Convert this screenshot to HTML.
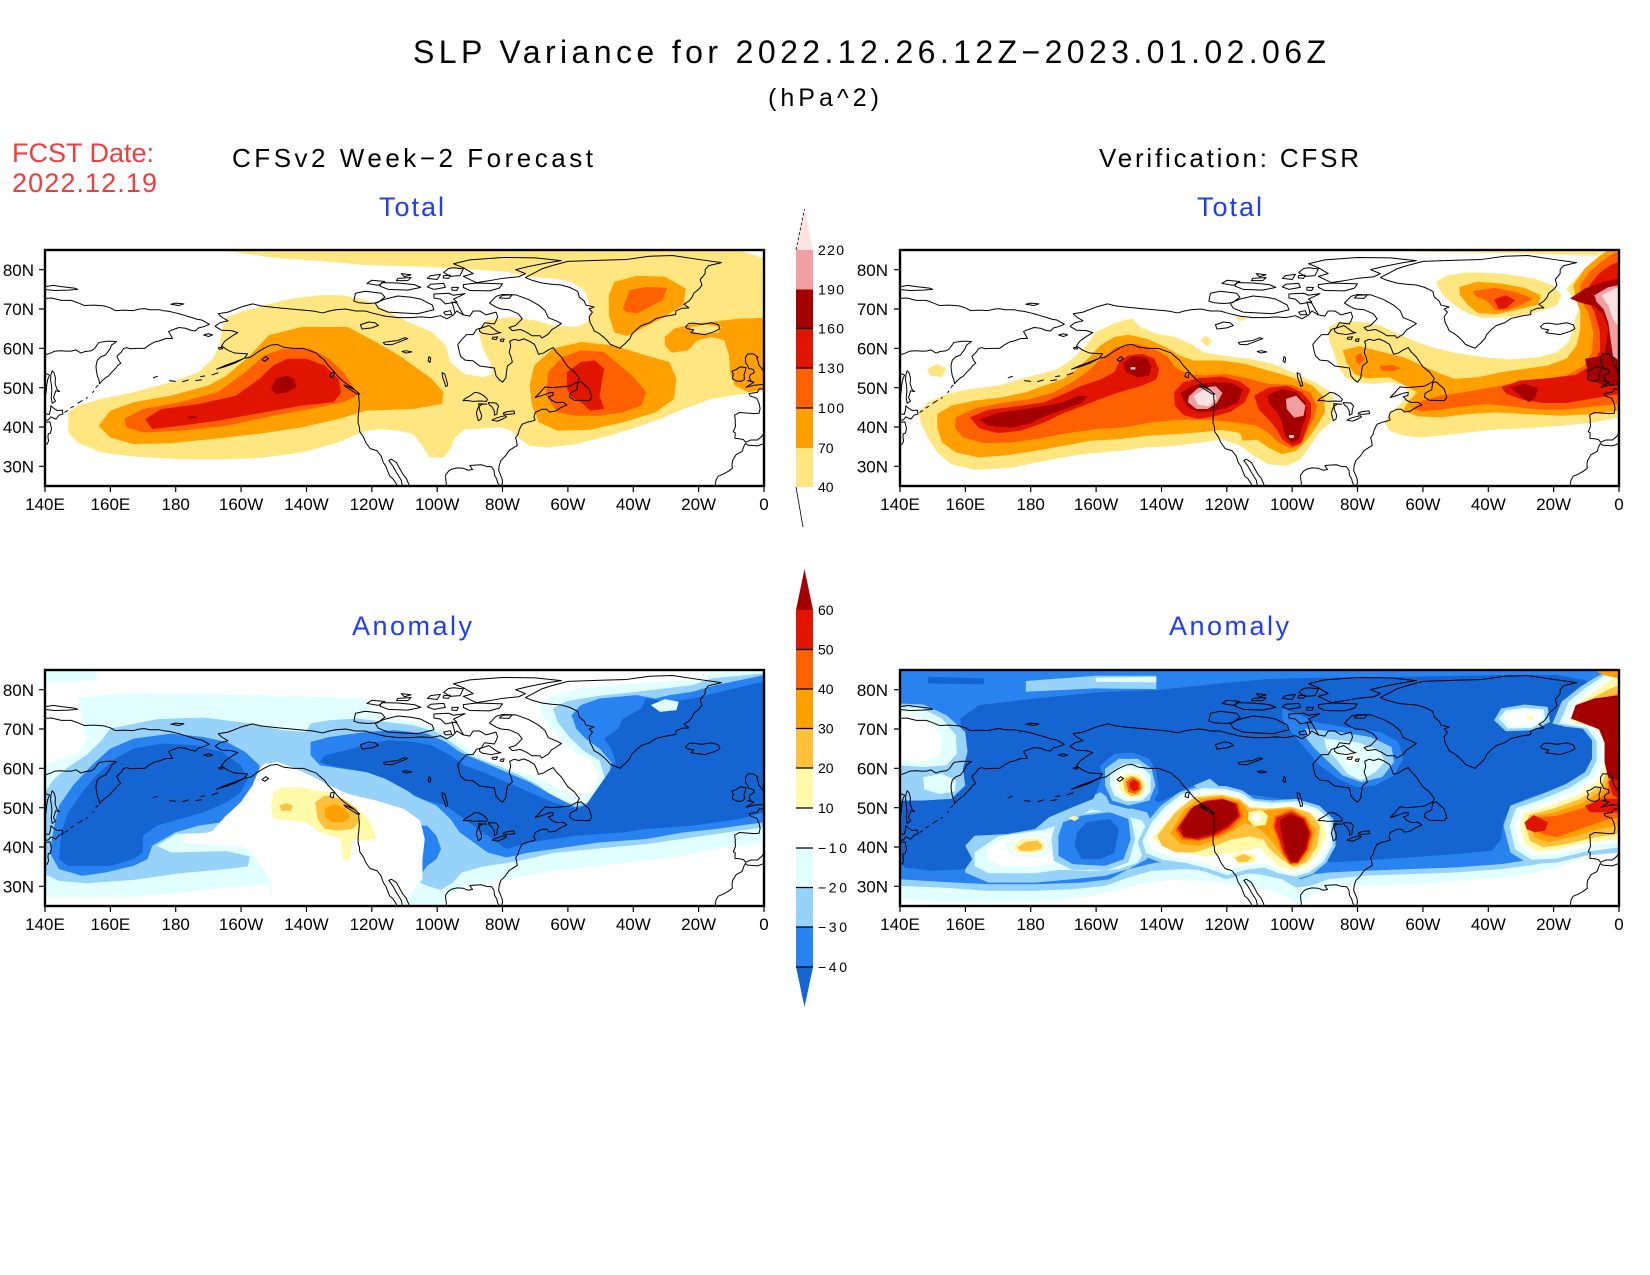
<!DOCTYPE html>
<html><head><meta charset="utf-8"><style>
html,body{margin:0;padding:0;background:#fff;}
svg{display:block;}
text{font-family:"Liberation Sans",Arial,sans-serif;}
</style></head><body>
<svg xmlns="http://www.w3.org/2000/svg" width="1650" height="1275" viewBox="0 0 1650 1275">
<defs>
<g id="coast" transform="matrix(7.0136 0 0 -11.75 -971.9 1013.75)">
<path fill="none" stroke="#000" stroke-width="1" vector-effect="non-scaling-stroke" stroke-linejoin="round" d="
M192,65.6 194,64.6 197,64.5 199,64 197,63 195,61.8 194,60.6 196,59.5 198,58.8 202,58.6 201,57.5 198,56.2 195,55.3 192.5,54.7 195,55.6 198,56.5 201,57.5 203,57.8 205,59 207,60 209,60.8 211,61 213,60.3 216,60 219,60 221,59.4 223,58.8 224,58 225.5,57 226.5,55.8 228,54.5 229.5,53 231,51.8 232.5,50.8 234,50 235,49.3 236,48.5 236,47.5 236.2,46 236,44 235.8,42.5 235.8,41 236.2,40 236.3,38.8 237.4,37.5 238.2,36 239.5,34.5 241.5,34 242.8,32.7 243.5,31 244.3,30 245,28.5 245.5,27.5 246.5,26.8 247.5,25.5 248,24.5
M249.5,24.5 249,26.5 247.5,28.5 246.5,30 245.2,31.5 246,31.8 247.5,31 248.5,29.5 249.5,28 250.5,27 251.3,25.5 251.5,24.5
M192,65.6 193.5,66.5 196,67 194,68 193,68.8 196,69.2 200,70.5 203.5,71.3 206,70.8 210,70.4 214,70.1 219,69.7 222,69.5 225,69 227,69.5 229,69.8 232,70 235,69.5 238,69.5 240,69 244,68.2 248,67.8 252,67.8 255,68 258,67.8 261,68.3 263,67.5 265,68.5 266,69.5 268,68.5 270,68.2 271,69.5 273,69.5 275,68.5 278,69.2 278.5,68 278,67 277.5,66.2 274.5,66.5 273.5,65.2 272,64.8 271,63.5 269,63.5 267.5,62.2 266.3,61 266.8,59 267.2,58 268.5,57 271,56.8 273,55.5 275,55.3 277.5,55 278,53 279,52 280,51.4 281,52.5 281.2,54 281.5,55.5 283,56.5 282.6,57.8 282,59 282.5,60.5 282.2,61.8 283.5,62.3 285,62 286.5,62.4 288,61.9 289.8,61 290.5,59.6 291,58.5 292.5,58.8 294,59.6 295.5,60.2 296.5,59 298,57.8 299,56.5 300,55.3 302,54 303.5,52.3 303,51.5 300.5,50.4 298,50.2 295,50 293,50.2 291.5,48.8 290,47.5 292,48 294,48.6 295.5,48.8 295.4,48 294,47.7 295,46.8 296.5,46.2 298.5,46.3 299.7,45.6 298,45 296,44 294.3,43.8 293.5,44.5 292,44.5 290,43.7 289.6,42.5 290,41.8 289,41.5 287.5,41.2 286,40.7 285.5,40 285,39 284.8,38.2 284,37.3 284.3,36.4 284.5,35.3 283.5,34.8 282,34 280.8,32.6 279.5,31.5 279,30.3 278.8,29 279.3,28 279.8,27 280,26 279.5,24.5
M279.3,24.8 278.5,25.8 278.2,26.8 277.5,27.8 277.4,29 276.6,29.9 275,30 273.5,30.4 271.5,30.3 270,30.2 270.8,29.2 269.5,29 268,29.5 266,29.6 264.5,29.3 263.5,28.8 262.6,27.8 262.6,26.8 262.8,25.8 262.7,24.5
M300.5,47.6 302,46.8 306.5,46.7 307.3,47.5 306.5,49.7 304,51.5 303,51.2 302.7,49.5 300.7,48.6Z
M235.5,48.4 232,50.2 231.5,50.7 234.5,49.6 236.3,48.4Z
M227.5,53.8 228.5,54 228.2,52.5 227.2,52.8Z
M280,73.7 284,73.6 288,72.4 291,71 293,69.6 294,67.8 296.4,67 298,66.3 296,65.2 295,64.7 294,63.6 292,62.6 291.5,63.2 289,63.2 287.5,64 285.5,64.8 283,64.5 282,65.3 284,65.8 286,67.5 284.8,68.8 282,69.8 279.5,70 278,70.5 276,71.5 278,73.2Z
M273,65 275.8,65.8 278.5,64.2 279.5,64 276.6,63.5 274,63.8 273,64.3Z
M241,71.5 244,72.5 248,73.3 252,73 255,72.5 258.5,71 259,69.8 254,68.8 249,69 245,69.2 242,70.2Z
M234.5,72 235,74 238,74.5 243,74 244,73 241.8,71.6 239,71.4 236,71.6Z
M243,76.7 248,76.6 253,76.2 255,75.5 251,74.8 245,75 242.5,75.8Z
M258,76.3 262,76.5 262.5,75.5 259,75 257,75.6Z
M259,73.8 263.5,74 265,73.5 268.5,73.9 265,72.5 266,71.8 262.5,71.3 261,72.5 259,72.8Z
M268,76.2 272,76.6 280,76.4 279,75.3 276,74.6 270,74.7 268,75.5Z
M272,76.7 276,77.2 280,77.8 285,78.2 287,79 284,80 288,80.8 294,81.8 298,82.3 290,83 280,83.1 270,82.5 265,81.5 268,80.5 271,79 268,78.3Z
M265,80.5 268,80.2 267,78.5 264,78.3 262,79.3 263.5,80.3Z
M258,78.5 261,78.8 260,77.5 257,77.8Z
M240,77.3 244,77 242,76 238.5,76.5Z
M262,69.2 264,69.6 264.5,68.6 262.5,68.5Z
M280,73.5 283,73.6 282,72.7 279,72.8Z
M262,78.5 264,78.6 263.5,77.8 261.8,77.9Z
M264.5,75.5 266.5,75.5 266,74.7 264.5,74.8Z
M248,77.8 252,78 251,77.2 247.5,77.2Z
M249,79 252,78.7 250,78.2Z
M277,62.8 278.5,62.9 278,62.2 276.8,62.4Z
M279.5,62.3 280.5,62.4 280.2,61.7 279.3,61.9Z
M265.5,68.8 265,70.5 264.5,71.8 266,71.5 267,70 268,68.6
M287,78 290,79.3 292,80.2 295,81 300,82.1 310,82.4 318,82.6 325,83.4 332,83.6 340,82.6 347,81.8 343,81 342,80 342,79 340.5,77.5 341,76 340,75 338.5,74 338,73 337,72 335.5,71.2 337,70.3 335,70.2 333,69.5 333,68.6 330,68.2 327,67.6 325,66.5 322.5,65.8 321,64.8 319.5,63.5 319,62.5 317.5,61.2 316.5,60.5 316,60 314.5,60.5 313,61 312,62 311,62.8 309.5,63.8 308,64.5 307.5,65.5 306.8,66.5 306.5,68 307.5,69.2 306.5,70 308,70.5 305.5,71 305,72 303.5,73 303,74.5 300.5,75.5 298,76.1 295,76.3 292,76.6 289,77.3Z
M336,65.5 337,66.3 338.5,66.4 341,66.1 344,66.5 346,66 346.5,65 345,64.3 342,63.5 339,63.8 337.6,64 338.5,64.7 336.5,65Z
M354.5,50.1 357,50.6 359.5,50.8 361.5,51.1 361.7,52.8 360.3,53.5 359.6,54.5 358.4,55.8 358.2,56.7 357.8,57.6 358.2,57.7 356.8,58.6 355,58.6 354.3,57.6 354.4,56.3 355,55.6 355.3,54.9 356.8,54.6 357,53.8 355.8,53.3 355.5,52.6 356,51.7 355,51.8 356.9,51.4Z
M354,52.1 353.9,53.3 354.2,54 354.5,55.1 352.7,55.3 351.5,54.6 350.2,54.2 350.6,53.4 350.3,52.3 351.5,51.7 353,51.6Z
M362,51.1 361.8,50.2 360,49.7 358.5,49.7 358,48.8 355.4,48.5 355.8,47.9 357.8,47.3 358.5,46 358.8,44.7 358.5,43.5 357,43.4 354,43.6 352.5,43.7 351,43 351.2,42 351.2,41 351.3,40.2 350.6,38.8 351.2,38.5 351.1,37.1 352.5,37 353.7,36.8 354.4,36.1 356,36.7 358,36.7 359.3,37.6 360,38.5 360,39.4 360.5,40.7 363,41.5
M364,37 360,35.8 358,35.2 355,35.4 354.3,35.8 353.8,35 353.3,33.8 351.5,33 350.4,31.5 350.2,30.5 350.3,29.5 349,28.7 347.5,28 346,27.5 345.3,26.5 345,24.5
M140,72.7 142,72.8 145,72.2 148,72.2 150,71.6 152,70.9 155,71 158,70.8 160,70.3 161.5,69.6 164,69.7 167,69.6 169,70 170.5,70.1 172,69.8 175,69.8 176,69.6 178,69.4 180,69 181,68.8 183,68.3 185,67.8 186.5,67.4 188,67.2 189.5,66.5 190.3,66.1 188.5,65.5 187,65.2 186,64.4 184.5,64.6 183,65.1 181,65.3 179,64.7 177.8,64.3 178.5,63.3 179,62.5 177,62.5 175,61.9 173.5,61.6 172,60.9 170.5,60 168,60 166,59.9 165,60.2 164,59.9 163.3,59 162,58 162.5,57 163.2,56.2 162.2,55.6 161.7,55 160.5,54 159.5,53 158.5,52.5 157.4,51.7 156.7,51 156.5,52 156,53 155.7,54.5 155.6,55.5 156,57 157,57.8 158.5,58.3 160,60 160.3,60.8 161.9,61.7 160.5,61.8 159,61.8 156.5,61.5 155,59.8 154.2,59.4 152.3,59.2 151,58.8 149.5,59.6 148,59.3 146.5,59.3 145,59.4 143,59.3 142,58.9 141,58.6 139.5,58.2
M139.5,53.8 141.4,53.2 140.8,52 140.5,50.5 140.3,48.5 139.5,47.8
M142.2,54.3 142.8,53.7 143.2,52.5 143.1,51 143.7,49.5 144.5,49 143.3,49.2 142.6,47.5 143.2,46.6 142.2,46 141.9,47.5 142.1,49 142,50.5 141.7,52 141.8,53.3Z
M139.5,42.5 140.3,43.3 141.3,43.2 141.7,44.4 141.8,45.4 142.6,44.8 143.7,44.2 145.3,44.3 145.5,43.3 144.3,43 143.3,42 141.8,42.6 141,41.8 139.5,41.6
M139.5,40.9 140.4,41.2 141.5,41.3 141.8,40.3 142,39.5 141.6,38.4 141,38.3 140.9,37.4 141.1,36.5 140.7,35.7 139.5,35.3
M146,43.7 147,44.2 M147.8,44.8 148.8,45.3 M150,46 151.5,46.8 M152.5,47.2 153,47.6 M154.5,48.7 155,49.2 M155.5,50 156.3,50.7
M186,51.8 188,52 M182,51.5 184,52 M178,51.8 180,51.6 M173,52.5 174.5,52.9 M187.5,52.8 189,53 M191,53.2 193,53.8
M188.5,63.4 190,63.7 191.3,63.4 190,63Z
M193,60.1 194,60.3 194.4,59.9 193.4,59.8Z
M206.4,57.1 207.5,57.9 208.4,57.4 207.2,56.7Z
M139.5,75.6 142.5,76 145,75.7 149,75.3 150,75 147,74.8 143,74.7 139.5,75
M178.5,71.2 180,71.5 182.5,71.3 181,70.9Z
M267.9,46.7 269.5,46.7 271,46.5 273,46.6 275,46.5 275.4,47 274.5,47.8 273,48.6 271.5,48.8 270.2,48 268.5,47.2Z
M272.7,45.9 272.9,44.5 273.6,43 273.4,42 272.6,41.6 272.3,42.5 272,43.5 272.3,44.5 272.7,45.2 273.8,45.8 275.2,45.8Z
M275.6,46.2 278,46.1 278.8,45.3 278.4,44.5 278.3,43.3 277.5,43 277.5,44 276.8,45.1 276,45.6Z
M276.8,41.7 278.5,41.5 280,42 281.2,42.6 280.8,42.9 278.5,42.4 277,41.9Z
M280.2,43.3 281.5,43.2 283.7,43.4 283.5,44.1 281.4,43.9 280.3,43.6Z
M261.5,53.8 262.3,53.5 263,51.5 263.2,50.5 262.6,50.3 262.2,51.5 261.7,52.5Z
M243.5,61.5 246,61.8 248,62 250,62.7 251,62.5 248,61.5 246,60.9 244,61Z
M236.5,66 239,66.7 241,66.5 242,65.8 240,65.2 238,65 237,64.9Z
M249.3,59.2 250.5,59.4 252.2,59.1 250.5,58.8Z
M257.5,57.9 258,57.5 257.8,56.4 257.2,56.8Z
"/>
</g>
</defs>

<!-- Titles -->
<text x="413" y="63" font-size="32" textLength="913" lengthAdjust="spacing">SLP Variance for 2022.12.26.12Z−2023.01.02.06Z</text>
<text x="768" y="106" font-size="25" textLength="111" lengthAdjust="spacing">(hPa^2)</text>
<text x="232" y="167" font-size="26" textLength="361" lengthAdjust="spacing">CFSv2 Week−2 Forecast</text>
<text x="1099" y="167" font-size="26" textLength="260" lengthAdjust="spacing">Verification: CFSR</text>
<text x="379" y="216" font-size="27" fill="#1e3cff" textLength="65" lengthAdjust="spacing">Total</text>
<text x="1197" y="216" font-size="27" fill="#1e3cff" textLength="65" lengthAdjust="spacing">Total</text>
<text x="12" y="162" font-size="27" fill="#f03c3c" textLength="142" lengthAdjust="spacing">FCST Date:</text>
<text x="12" y="192" font-size="27" fill="#f03c3c" textLength="145" lengthAdjust="spacing">2022.12.19</text>
<text x="352" y="635" font-size="27" fill="#1e3cff" textLength="120" lengthAdjust="spacing">Anomaly</text>
<text x="1169" y="635" font-size="27" fill="#1e3cff" textLength="120" lengthAdjust="spacing">Anomaly</text>

<!-- MAP 1: top-left forecast total -->
<svg x="45" y="250" width="719" height="236" viewBox="10 15 1543 705" preserveAspectRatio="none" overflow="hidden">
<g fill="#ffe680">
<polygon points="380,15 1500,15 1553,40 1553,438 1500,446 1440,460 1380,490 1330,520 1280,545 1220,570 1150,595 1090,605 1050,600 1030,580 1010,555 990,545 950,548 910,552 890,575 880,610 865,635 835,635 820,600 800,565 770,555 730,550 700,555 680,565 640,590 560,620 480,635 400,640 300,640 200,632 130,620 80,590 60,560 60,500 80,480 130,460 200,440 280,410 340,380 370,340 385,300 390,250 400,215 430,200 480,180 540,160 600,150 650,150 700,165 740,195 790,230 840,260 870,300 880,350 910,385 950,395 970,385 965,350 950,310 940,260 960,225 1010,215 1060,225 1100,240 1150,245 1175,230 1180,190 1170,140 1140,110 1100,100 1050,95 1000,80 900,70 800,64 700,60 600,48 500,38 420,22"/>
</g>
<g fill="#ffa000">
<polygon points="125,540 150,495 200,470 280,450 360,420 400,390 450,330 490,270 560,245 660,245 720,290 770,330 800,360 840,400 865,440 862,475 800,490 700,495 640,520 560,545 480,562 380,578 280,592 200,595 150,575"/>
<polygon points="1050,420 1060,360 1100,310 1160,290 1230,300 1300,330 1350,350 1365,400 1360,460 1320,500 1250,530 1180,552 1110,555 1070,530 1055,480"/>
<polygon points="1220,150 1232,110 1280,92 1340,95 1385,130 1380,180 1330,222 1290,250 1260,272 1232,262 1220,210"/>
<polygon points="1340,275 1360,250 1400,236 1450,228 1500,220 1553,218 1553,432 1520,440 1490,420 1480,380 1478,330 1468,285 1440,275 1410,285 1390,315 1355,322 1340,300"/>
</g>
<polygon fill="#ffe680" points="1395,245 1430,238 1462,245 1455,262 1420,265 1398,258"/>
<g fill="#ff6000">
<polygon points="180,520 220,490 300,470 380,440 440,380 480,330 520,310 580,310 620,340 650,380 670,420 680,450 650,470 580,490 500,510 400,540 300,555 220,560 185,545"/>
<polygon points="1085,450 1090,380 1120,335 1160,315 1210,320 1240,355 1270,390 1300,440 1290,480 1250,500 1200,510 1150,510 1110,500"/>
<polygon points="1250,190 1265,135 1300,125 1345,128 1335,165 1300,190 1280,205 1258,200"/>
</g>
<g fill="#e11400">
<polygon points="225,520 260,490 340,475 420,450 470,400 500,360 530,340 570,340 610,360 640,400 645,440 630,470 560,480 480,500 380,525 300,540 240,550"/>
<polygon points="1130,430 1130,380 1160,350 1190,345 1210,370 1205,410 1200,450 1210,490 1180,495 1160,470 1140,455"/>
</g>
<g fill="#a50000">
<polygon points="495,430 505,400 530,390 545,400 550,425 530,440 505,445"/>
<polygon points="318,512 335,512 335,518 318,518"/>
</g>
<use href="#coast"/>
</svg>

<!-- MAP 2: top-right CFSR total -->
<svg x="900" y="250" width="719" height="236" viewBox="10 15 1543 705" preserveAspectRatio="none" overflow="hidden">
<g fill="#ffe680">
<polygon points="50,500 70,470 110,445 160,430 220,420 270,400 310,385 350,370 380,340 410,300 430,260 460,240 490,225 510,220 525,245 560,265 600,275 640,300 660,320 700,330 760,340 810,355 860,385 900,410 935,440 945,480 935,530 910,560 890,600 870,640 840,660 800,655 770,630 740,600 700,580 660,590 600,600 540,605 480,615 400,625 320,645 250,665 170,672 120,655 90,620 70,575 55,535"/>
<polygon points="68,370 90,355 110,370 100,395 75,390"/>
<polygon points="655,285 665,270 680,285 670,305"/>
<polygon points="728,218 745,212 755,222 738,228"/>
<polygon points="930,245 950,230 990,228 1040,240 1070,260 1110,285 1150,305 1200,322 1260,335 1320,342 1380,335 1420,320 1445,290 1455,250 1460,215 1470,185 1455,160 1440,130 1460,100 1480,70 1505,40 1520,15 1553,15 1553,515 1500,530 1430,540 1350,548 1280,552 1200,565 1130,575 1090,570 1060,555 1050,530 1060,505 1080,480 1100,450 1095,420 1060,410 1020,415 990,410 965,395 950,360 940,320 930,280"/>
<polygon points="1110,15 1520,15 1505,32 1450,30 1350,25 1200,22 1120,20"/>
<polygon points="1160,110 1185,90 1230,82 1300,85 1370,100 1410,120 1430,150 1420,180 1380,200 1320,215 1260,218 1230,205 1200,180 1175,150"/>
</g>
<g fill="#ffa000">
<polygon points="90,505 120,480 170,465 230,455 280,440 320,420 360,400 390,370 420,330 440,300 470,275 500,268 540,280 580,305 610,330 640,345 700,345 750,355 800,375 850,395 895,420 920,455 922,500 905,540 885,580 860,615 830,625 800,605 770,575 735,560 700,552 650,560 600,565 540,570 480,580 420,585 360,600 300,615 240,628 180,635 130,620 100,590 90,545"/>
<polygon points="740,560 790,558 795,580 745,585"/>
<polygon points="1210,125 1250,110 1300,115 1350,128 1385,150 1380,178 1340,192 1290,207 1250,203 1228,178 1212,150"/>
<polygon points="960,315 995,302 1040,318 1090,335 1130,360 1170,385 1200,400 1250,395 1300,380 1350,370 1400,360 1440,340 1462,300 1470,250 1470,200 1460,160 1455,120 1480,70 1505,40 1530,15 1553,15 1553,495 1500,505 1430,510 1350,505 1290,500 1230,505 1170,515 1120,512 1090,495 1100,470 1120,440 1100,425 1060,395 1010,398 985,385 968,350"/>
</g>
<g fill="#ff6000">
<polygon points="130,515 170,488 230,472 290,460 340,440 380,410 415,375 445,335 475,305 515,295 555,310 585,335 600,365 625,385 660,390 710,385 760,400 800,415 850,418 890,440 905,480 898,520 882,560 870,598 848,608 822,590 800,560 775,540 730,530 670,522 610,522 550,530 490,545 430,550 370,562 310,578 250,590 190,592 145,575 128,545"/>
<polygon points="1240,138 1285,128 1330,140 1368,160 1345,178 1312,195 1288,195 1268,165 1245,152"/>
<polygon points="988,332 998,322 1008,340 996,358 988,348"/>
<polygon points="1040,362 1065,358 1085,368 1065,378 1042,374"/>
<polygon points="1110,490 1130,465 1170,450 1220,440 1270,428 1320,415 1380,405 1440,390 1478,362 1495,320 1498,260 1488,205 1470,160 1470,120 1490,80 1515,50 1540,25 1553,20 1553,475 1500,482 1440,492 1380,492 1320,482 1270,475 1220,482 1170,492 1130,497"/>
</g>
<g fill="#e11400">
<polygon points="160,515 200,492 260,482 320,470 360,446 400,420 440,402 470,380 480,350 500,330 530,325 556,340 566,372 560,402 530,420 480,440 440,460 400,482 360,503 320,530 270,555 220,562 180,548"/>
<polygon points="598,440 618,410 650,398 700,393 740,408 762,432 750,470 720,498 690,510 650,520 618,508 600,480"/>
<polygon points="770,450 800,427 840,420 872,440 892,472 892,512 882,552 872,590 852,602 830,580 818,550 800,520 780,492"/>
<polygon points="1285,162 1310,150 1330,165 1312,188 1295,192"/>
<polygon points="1300,425 1340,405 1400,398 1460,388 1495,358 1512,318 1512,258 1500,200 1485,160 1490,120 1510,85 1535,60 1553,50 1553,445 1500,458 1440,472 1390,472 1345,462 1312,445"/>
</g>
<g fill="#a50000">
<polygon points="180,522 220,502 280,490 325,480 360,470 392,450 412,452 400,472 360,492 320,512 290,532 250,546 200,540"/>
<polygon points="490,352 510,332 540,337 550,362 545,390 520,396 494,380"/>
<polygon points="612,442 638,420 680,410 722,412 746,432 736,470 710,487 680,497 650,500 625,482"/>
<polygon points="798,450 828,430 860,440 880,470 882,512 872,552 866,582 850,592 836,570 830,532 820,500 805,480"/>
<polygon points="1320,425 1350,415 1380,428 1372,458 1360,470 1342,452"/>
<polygon points="1448,160 1480,130 1520,110 1553,100 1553,385 1530,365 1520,340 1525,300 1530,250 1520,210 1500,183 1470,172"/>
<polygon points="1480,340 1520,330 1553,330 1553,420 1520,420 1490,400"/>
</g>
<g fill="#f0a0a0">
<polygon points="630,452 650,427 688,422 702,442 690,472 670,490 646,490 628,470"/>
<polygon points="838,460 860,450 880,480 876,510 856,516 840,490"/>
<polygon points="1500,150 1530,126 1553,120 1553,345 1540,332 1535,282 1530,232 1520,192 1505,170"/>
</g>
<g fill="#fde2e2">
<polygon points="640,452 660,432 684,437 690,460 672,482 650,477"/>
<polygon points="1515,150 1545,130 1553,130 1553,245 1540,222 1530,180"/>
<polygon points="505,365 515,365 515,372 505,372"/>
<polygon points="845,568 855,568 855,576 845,576"/>
</g>
<use href="#coast"/>
</svg>

<!-- MAP 3: bottom-left forecast anomaly -->
<svg x="45" y="670" width="719" height="236" viewBox="10 15 1543 705" preserveAspectRatio="none" overflow="hidden">
<rect x="0" y="0" width="1600" height="760" fill="#e1ffff"/>
<polygon fill="#96d2fa" points="10,380 30,340 60,305 100,268 130,228 150,190 250,162 350,157 450,175 520,195 570,200 580,175 620,165 680,160 740,170 800,180 850,200 885,235 925,272 980,300 1030,330 1070,360 1100,395 1140,415 1185,410 1212,340 1200,285 1165,255 1135,215 1110,170 1100,130 1130,108 1200,92 1280,80 1340,70 1400,60 1440,40 1553,25 1553,485 1500,495 1450,505 1400,515 1300,535 1200,548 1100,562 1050,578 1000,592 950,602 905,620 885,650 860,672 830,660 800,640 780,610 770,560 760,510 745,470 700,440 650,410 600,370 560,330 520,305 490,310 475,350 455,395 425,440 395,480 370,500 290,505 250,540 280,560 400,556 450,572 445,602 380,612 300,622 200,642 100,652 40,645 10,625"/>
<g fill="#2882f0">
<polygon points="20,560 30,480 40,420 70,360 110,300 150,250 200,220 280,205 350,215 400,230 440,260 470,300 475,350 460,400 430,440 390,470 340,480 290,500 240,540 230,580 200,600 140,620 90,630 40,610"/>
<polygon points="580,230 620,215 700,200 760,195 830,205 870,230 900,260 950,290 1000,320 1050,350 1100,390 1150,425 1190,410 1220,340 1225,290 1200,250 1170,220 1150,190 1140,150 1160,120 1200,100 1280,90 1320,100 1350,90 1400,80 1450,60 1520,40 1553,30 1553,470 1500,480 1450,490 1380,500 1300,520 1200,530 1100,550 1050,560 1000,575 960,560 930,530 900,500 880,460 850,420 800,390 760,340 700,320 650,310 600,300 580,270"/>
<polygon points="780,500 800,480 830,480 850,510 860,550 850,580 830,600 820,620 790,600 780,560"/>
</g>
<g fill="#1464d2">
<polygon points="40,580 45,500 60,440 90,380 120,330 160,280 200,250 260,235 330,240 390,260 430,300 445,340 430,380 400,410 350,440 300,460 250,480 220,510 220,560 200,580 150,600 100,600 60,600"/>
<polygon points="670,250 700,235 750,225 800,230 840,240 880,270 910,300 950,320 1000,350 1050,380 1100,410 1150,430 1170,420 1200,360 1235,290 1225,250 1210,220 1240,190 1250,160 1290,130 1300,100 1350,110 1400,100 1460,80 1520,60 1553,50 1553,440 1500,460 1450,470 1400,480 1300,490 1250,500 1150,510 1050,530 1000,550 970,520 930,480 900,450 870,420 820,400 780,370 740,340 700,320 660,310 620,300 600,290 610,270"/>
</g>
<polygon fill="#e1ffff" points="1310,120 1340,102 1370,110 1365,135 1330,140"/>
<g fill="#ffffff">
<polygon points="120,15 1553,15 1553,20 1440,22 1420,45 1300,52 1250,58 1150,72 1090,95 1070,128 1090,178 1120,228 1150,265 1185,288 1198,330 1185,380 1150,392 1110,368 1060,332 1000,308 950,278 900,228 860,188 800,168 740,158 705,128 700,102 600,95 400,88 200,84 80,98 60,52 120,45"/>
<polygon points="10,50 60,52 80,98 90,170 100,220 80,262 40,285 10,298"/>
<polygon points="480,295 510,290 540,305 580,330 620,360 660,385 720,405 780,430 815,465 825,520 820,580 820,640 790,690 770,720 500,720 495,655 485,625 465,580 440,545 370,538 305,530 310,505 350,505 370,495 395,455 430,410 455,360 470,310"/>
<polygon points="10,692 100,692 200,692 300,682 400,664 490,655 500,720 10,720"/>
<polygon points="860,720 875,690 905,668 960,650 1020,635 1100,615 1200,600 1300,585 1380,570 1450,550 1500,540 1553,535 1553,720"/>
</g>
<polygon fill="#fffaaa" points="500,380 520,365 560,365 590,375 620,380 660,410 690,440 710,470 720,520 690,525 670,520 665,580 650,585 645,520 600,500 570,470 540,465 500,460 495,420"/>
<g fill="#ffc03c">
<polygon points="590,410 610,390 650,400 680,430 685,470 670,490 640,495 610,490 595,460"/>
<polygon points="513,420 528,413 542,420 538,435 518,436"/>
</g>
<polygon fill="#ffa000" points="610,430 630,415 655,430 665,455 650,470 625,470 612,455"/>
<use href="#coast"/>
</svg>

<!-- MAP 4: bottom-right CFSR anomaly -->
<svg x="900" y="670" width="719" height="236" viewBox="10 15 1543 705" preserveAspectRatio="none" overflow="hidden">
<rect x="0" y="0" width="1600" height="760" fill="#e1ffff"/>
<polygon fill="#96d2fa" points="10,15 1553,15 1553,485 1500,525 1450,565 1380,595 1300,610 1200,620 1100,625 1000,630 930,640 890,660 860,665 830,640 780,625 700,615 620,610 550,615 500,635 450,660 380,670 300,675 200,675 100,665 10,660"/>
<polygon fill="#2882f0" points="10,15 1553,15 1553,470 1500,505 1440,545 1370,580 1300,595 1200,605 1100,610 1000,615 930,620 900,625 870,640 840,625 790,605 700,600 620,590 560,590 500,610 460,640 400,650 300,655 200,655 100,648 10,640"/>
<polygon fill="#1464d2" points="70,35 190,40 190,58 70,55"/>
<polygon fill="#96d2fa" points="280,48 430,32 560,32 560,72 430,70 280,80"/>
<polygon fill="#e1ffff" points="430,38 560,36 560,52 430,50"/>
<polygon fill="#96d2fa" points="150,520 200,470 300,440 380,420 440,380 480,420 540,440 560,500 540,580 500,610 450,630 380,640 300,650 200,650 150,620"/>
<polygon fill="#e1ffff" points="170,560 220,512 320,492 360,472 420,432 480,445 530,465 550,520 520,590 480,610 420,615 350,612 300,622 200,622 170,600"/>
<polygon fill="#ffffff" points="200,545 250,507 320,500 350,520 355,560 340,592 300,602 230,602 200,582"/>
<polygon fill="#96d2fa" points="345,470 390,445 460,435 505,455 515,520 500,590 455,612 380,612 340,585 335,520"/>
<polygon fill="#2882f0" points="360,470 400,450 460,440 500,460 505,520 490,580 450,600 380,595 350,570 350,510"/>
<polygon fill="#1464d2" points="390,500 410,470 460,460 480,490 470,560 440,580 400,580 385,540"/>
<polygon fill="#1464d2" points="10,400 60,390 110,380 140,330 145,280 140,220 140,160 180,120 300,100 450,80 560,75 700,55 800,42 900,38 1100,35 1300,30 1420,30 1480,45 1500,65 1460,100 1440,150 1480,180 1505,230 1505,290 1470,330 1420,370 1360,395 1320,420 1305,470 1300,520 1280,555 1200,565 1100,575 1000,585 930,590 915,540 920,480 900,430 860,405 800,395 750,385 720,370 690,365 650,355 620,370 590,395 565,410 545,395 555,350 545,300 510,270 480,275 455,300 440,350 425,400 380,425 330,455 300,490 240,505 170,510 150,540 165,580 150,610 80,615 20,605 10,590"/>
<!-- left lobe -->
<polygon fill="#96d2fa" points="10,115 60,118 110,150 150,200 155,260 145,310 150,360 120,400 60,405 10,405"/>
<polygon fill="#e1ffff" points="10,125 55,128 100,160 130,210 132,265 110,300 60,305 10,300"/>
<polygon fill="#e1ffff" points="60,335 100,325 130,345 128,378 95,385 62,372"/>
<polygon fill="#ffffff" points="10,140 40,145 80,175 100,220 95,270 65,288 10,288"/>
<!-- Hudson -->
<polygon fill="#2882f0" points="830,130 870,150 900,170 960,185 1040,200 1080,230 1090,280 1070,330 1030,360 990,365 950,340 910,300 880,250 850,200 830,160"/>
<polygon fill="#96d2fa" points="880,190 950,200 1020,215 1065,245 1070,290 1045,335 1000,350 960,330 930,290 900,250 880,215"/>
<polygon fill="#e1ffff" points="920,220 990,230 1040,255 1050,290 1030,320 1000,345 970,325 945,280 925,250"/>
<polygon fill="#ffffff" points="960,265 990,260 1000,290 970,300"/>
<polygon fill="#96d2fa" points="640,360 675,340 700,368 665,382"/>
<!-- Greenland patch -->
<polygon fill="#96d2fa" points="1285,165 1300,130 1350,118 1400,125 1405,170 1370,195 1310,198"/>
<polygon fill="#e1ffff" points="1295,160 1310,135 1350,128 1392,133 1395,168 1365,188 1315,190"/>
<polygon fill="#ffffff" points="1305,158 1320,140 1355,135 1385,140 1385,165 1360,182 1320,183"/>
<polygon fill="#fffaaa" points="1352,155 1365,150 1372,160 1360,166"/>
<!-- bottom white -->
<polygon fill="#ffffff" points="10,700 100,705 250,708 340,702 420,690 480,672 530,652 600,642 680,647 740,657 800,672 840,692 860,715 880,702 910,672 960,662 1050,657 1150,652 1250,642 1350,627 1430,602 1480,572 1520,532 1553,508 1553,720 10,720"/>
<!-- Alaska warm blob -->
<polygon fill="#2882f0" points="440,300 470,265 510,262 545,280 560,320 565,380 550,420 500,430 460,415 445,370"/>
<polygon fill="#96d2fa" points="450,310 480,280 520,280 550,310 558,360 545,405 500,420 465,405 450,360"/>
<polygon fill="#e1ffff" points="462,320 490,295 525,298 548,330 548,380 530,405 495,408 470,390 460,355"/>
<polygon fill="#ffffff" points="470,330 495,310 525,315 542,345 540,385 520,400 495,400 475,380"/>
<polygon fill="#fffaaa" points="478,340 500,322 525,328 538,355 532,388 510,398 490,390 480,365"/>
<polygon fill="#ffc03c" points="488,345 505,330 525,340 532,365 522,388 505,392 492,375"/>
<polygon fill="#ff6000" points="495,348 510,335 525,348 528,370 515,385 500,380"/>
<polygon fill="#e11400" points="502,352 512,342 522,352 522,372 512,378 503,368"/>
<!-- Big western warm -->
<polygon fill="#96d2fa" points="520,530 540,470 570,420 610,380 660,360 710,362 745,375 770,400 810,405 860,400 910,420 940,460 945,540 925,590 895,625 860,640 820,630 790,615 750,625 710,640 670,620 620,600 570,590 530,570"/>
<polygon fill="#e1ffff" points="530,525 550,470 578,425 615,385 660,368 705,370 742,382 765,405 808,412 860,408 905,428 935,465 938,540 918,588 888,620 858,632 822,622 792,605 752,612 712,628 675,610 625,592 575,582 538,562"/>
<polygon fill="#ffffff" points="540,520 560,470 585,428 620,390 660,375 700,376 738,388 758,410 800,420 850,415 900,435 930,470 930,540 910,585 880,612 852,624 822,612 795,592 765,595 730,605 700,615 680,600 640,585 590,572 550,552"/>
<polygon fill="#fffaaa" points="550,518 580,470 612,420 650,388 700,383 735,396 760,422 800,428 845,422 885,437 915,465 925,510 905,570 880,600 852,614 822,600 800,570 780,545 760,552 730,562 700,562 665,572 625,562 585,550"/>
<polygon fill="#ffc03c" points="562,510 600,442 640,396 700,388 740,402 762,428 800,430 850,424 890,442 912,482 906,540 882,590 855,604 830,582 802,548 790,522 760,512 720,522 682,542 642,560 602,560 572,540"/>
<polygon fill="#ffa000" points="590,502 620,432 652,402 700,392 740,408 760,442 800,434 850,428 880,452 902,492 892,552 872,590 852,600 832,572 812,532 792,502 772,482 750,472 720,500 690,520 652,540 612,535"/>
<polygon fill="#fffaaa" points="758,440 785,432 800,450 795,478 770,482 757,462"/>
<polygon fill="#ffffff" points="765,448 780,444 788,458 778,470 766,465"/>
<g fill="#ff6000">
<polygon points="600,492 630,432 662,406 700,398 736,412 746,452 722,490 692,512 652,526 615,522"/>
<polygon points="814,452 850,432 882,458 896,502 886,552 866,590 846,596 830,562 820,520 810,482"/>
</g>
<g fill="#e11400">
<polygon points="605,488 635,428 665,406 702,400 733,414 740,452 716,486 688,508 650,522 618,516"/>
<polygon points="818,456 850,438 878,460 892,502 883,552 864,592 848,592 834,562 824,520 814,484"/>
</g>
<g fill="#a50000">
<polygon points="612,480 640,422 670,407 705,402 730,416 736,452 712,482 682,504 644,518 617,510"/>
<polygon points="826,462 850,446 875,462 888,502 880,550 862,588 848,586 836,552 830,512 826,482"/>
</g>
<polygon fill="#fffaaa" points="720,572 745,560 775,570 770,590 740,595"/>
<polygon fill="#ffc03c" points="730,575 748,565 765,575 755,588 735,588"/>
<polygon fill="#e1ffff" points="235,540 260,510 310,505 335,520 335,560 300,575 250,570"/>
<polygon fill="#ffffff" points="243,540 265,515 305,512 326,525 326,556 298,568 255,565"/>
<polygon fill="#fffaaa" points="250,545 270,520 305,518 320,530 320,552 295,562 260,560"/>
<polygon fill="#ffc03c" points="262,545 280,528 305,525 315,538 312,550 290,556 268,555"/>
<polygon fill="#fffaaa" points="372,458 383,450 395,457 385,466"/>
<!-- Right warm region -->
<polygon fill="#96d2fa" points="1410,175 1430,110 1470,65 1505,35 1535,15 1553,15 1553,560 1480,570 1420,590 1360,595 1320,560 1305,480 1320,420 1380,390 1440,355 1480,320 1495,280 1495,225 1475,190 1440,185"/>
<polygon fill="#e1ffff" points="1425,175 1445,110 1480,70 1512,40 1540,15 1553,15 1553,545 1480,558 1420,578 1365,582 1330,550 1318,480 1332,428 1390,400 1450,365 1490,328 1505,285 1505,228 1485,190 1450,180"/>
<polygon fill="#ffffff" points="1438,172 1458,112 1490,75 1520,45 1545,18 1553,15 1553,530 1480,545 1420,565 1370,570 1340,540 1330,480 1342,435 1400,410 1460,375 1500,335 1515,288 1515,225 1495,188 1460,178"/>
<polygon fill="#fffaaa" points="1448,168 1465,115 1498,82 1528,52 1553,30 1553,520 1480,532 1420,552 1375,558 1350,532 1340,480 1350,442 1405,420 1465,388 1508,345 1525,290 1525,225 1505,188 1470,176"/>
<polygon fill="#ffc03c" points="1452,162 1470,120 1505,92 1535,70 1553,60 1553,505 1500,515 1440,535 1390,545 1362,525 1352,480 1360,448 1410,430 1470,400 1515,360 1532,300 1530,230 1512,192 1478,172"/>
<polygon fill="#ffa000" points="1455,158 1475,122 1510,100 1553,85 1553,480 1510,490 1450,515 1400,530 1372,515 1362,478 1370,452 1415,440 1475,412 1520,372 1538,310 1535,235 1518,195 1482,170"/>
<polygon fill="#ff6000" points="1458,155 1480,125 1515,105 1553,95 1553,455 1520,465 1470,490 1420,515 1385,505 1372,475 1380,455 1420,450 1480,425 1525,385 1540,320 1540,240 1522,198 1485,168"/>
<g fill="#e11400">
<polygon points="1460,152 1485,122 1520,108 1553,100 1553,400 1540,390 1530,350 1545,320 1545,245 1528,200 1490,165"/>
<polygon points="1350,470 1370,448 1400,470 1395,495 1372,500 1355,490"/>
<polygon points="1480,420 1520,400 1553,400 1553,440 1520,440 1490,440"/>
</g>
<polygon fill="#a50000" points="1450,160 1460,120 1500,100 1553,90 1553,345 1530,338 1522,290 1522,232 1510,192 1480,176"/>
<polygon fill="#ffa000" points="1500,15 1553,15 1553,40 1520,30"/>
<use href="#coast"/>
</svg>

<!-- Frames -->
<g fill="none" stroke="#000" stroke-width="2.4">
<rect x="45" y="250" width="719" height="236"/>
<rect x="900" y="250" width="719" height="236"/>
<rect x="45" y="670" width="719" height="236"/>
<rect x="900" y="670" width="719" height="236"/>
</g>

<!-- Ticks -->
<g stroke="#000" stroke-width="1.2">
<path d="M39,269.7H45M39,309H45M39,348.3H45M39,387.7H45M39,427H45M39,466.3H45
M894,269.7H900M894,309H900M894,348.3H900M894,387.7H900M894,427H900M894,466.3H900
M39,689.7H45M39,729H45M39,768.3H45M39,807.7H45M39,847H45M39,886.3H45
M894,689.7H900M894,729H900M894,768.3H900M894,807.7H900M894,847H900M894,886.3H900"/>
<path d="M45,486V492M110.4,486V492M175.7,486V492M241.1,486V492M306.5,486V492M371.8,486V492M437.2,486V492M502.5,486V492M567.9,486V492M633.3,486V492M698.6,486V492M764,486V492
M900,486V492M965.4,486V492M1030.7,486V492M1096.1,486V492M1161.5,486V492M1226.8,486V492M1292.2,486V492M1357.5,486V492M1422.9,486V492M1488.3,486V492M1553.6,486V492M1619,486V492
M45,906V912M110.4,906V912M175.7,906V912M241.1,906V912M306.5,906V912M371.8,906V912M437.2,906V912M502.5,906V912M567.9,906V912M633.3,906V912M698.6,906V912M764,906V912
M900,906V912M965.4,906V912M1030.7,906V912M1096.1,906V912M1161.5,906V912M1226.8,906V912M1292.2,906V912M1357.5,906V912M1422.9,906V912M1488.3,906V912M1553.6,906V912M1619,906V912"/>
</g>

<!-- Y labels -->
<g font-size="17" text-anchor="end">
<text x="34" y="276">80N</text><text x="34" y="315">70N</text><text x="34" y="354.5">60N</text><text x="34" y="394">50N</text><text x="34" y="433">40N</text><text x="34" y="472.5">30N</text>
<text x="888" y="276">80N</text><text x="888" y="315">70N</text><text x="888" y="354.5">60N</text><text x="888" y="394">50N</text><text x="888" y="433">40N</text><text x="888" y="472.5">30N</text>
<text x="34" y="696">80N</text><text x="34" y="735">70N</text><text x="34" y="774.5">60N</text><text x="34" y="814">50N</text><text x="34" y="853">40N</text><text x="34" y="892.5">30N</text>
<text x="888" y="696">80N</text><text x="888" y="735">70N</text><text x="888" y="774.5">60N</text><text x="888" y="814">50N</text><text x="888" y="853">40N</text><text x="888" y="892.5">30N</text>
</g>

<!-- X labels -->
<g font-size="17" text-anchor="middle">
<text x="45" y="510">140E</text><text x="110.4" y="510">160E</text><text x="175.7" y="510">180</text><text x="241.1" y="510">160W</text><text x="306.5" y="510">140W</text><text x="371.8" y="510">120W</text><text x="437.2" y="510">100W</text><text x="502.5" y="510">80W</text><text x="567.9" y="510">60W</text><text x="633.3" y="510">40W</text><text x="698.6" y="510">20W</text><text x="764" y="510">0</text>
<text x="900" y="510">140E</text><text x="965.4" y="510">160E</text><text x="1030.7" y="510">180</text><text x="1096.1" y="510">160W</text><text x="1161.5" y="510">140W</text><text x="1226.8" y="510">120W</text><text x="1292.2" y="510">100W</text><text x="1357.5" y="510">80W</text><text x="1422.9" y="510">60W</text><text x="1488.3" y="510">40W</text><text x="1553.6" y="510">20W</text><text x="1619" y="510">0</text>
<text x="45" y="930">140E</text><text x="110.4" y="930">160E</text><text x="175.7" y="930">180</text><text x="241.1" y="930">160W</text><text x="306.5" y="930">140W</text><text x="371.8" y="930">120W</text><text x="437.2" y="930">100W</text><text x="502.5" y="930">80W</text><text x="567.9" y="930">60W</text><text x="633.3" y="930">40W</text><text x="698.6" y="930">20W</text><text x="764" y="930">0</text>
<text x="900" y="930">140E</text><text x="965.4" y="930">160E</text><text x="1030.7" y="930">180</text><text x="1096.1" y="930">160W</text><text x="1161.5" y="930">140W</text><text x="1226.8" y="930">120W</text><text x="1292.2" y="930">100W</text><text x="1357.5" y="930">80W</text><text x="1422.9" y="930">60W</text><text x="1488.3" y="930">40W</text><text x="1553.6" y="930">20W</text><text x="1619" y="930">0</text>
</g>

<!-- Top colorbar -->
<polygon points="796,250 813,250 804.5,209" fill="#fde2e2"/>
<path d="M796,250 L804.5,209" stroke="#000" stroke-width="0.8" stroke-dasharray="3,2" fill="none"/>
<rect x="796" y="250" width="17" height="39.5" fill="#f0a0a0"/>
<rect x="796" y="289.5" width="17" height="39" fill="#a50000"/>
<rect x="796" y="328.5" width="17" height="39.5" fill="#e11400"/>
<rect x="796" y="368" width="17" height="40" fill="#ff6000"/>
<rect x="796" y="408" width="17" height="40" fill="#ffa000"/>
<rect x="796" y="448" width="17" height="39" fill="#ffe680"/>
<path d="M796,487 L803,527" stroke="#000" stroke-width="0.8" fill="none"/>
<path d="M796,328.5H813M796,368H813M796,408H813" stroke="#000" stroke-width="1.2"/>
<g font-size="14">
<text x="818" y="255" textLength="26" lengthAdjust="spacing">220</text>
<text x="818" y="294.5" textLength="26" lengthAdjust="spacing">190</text>
<text x="818" y="333.5" textLength="26" lengthAdjust="spacing">160</text>
<text x="818" y="373" textLength="26" lengthAdjust="spacing">130</text>
<text x="818" y="413" textLength="26" lengthAdjust="spacing">100</text>
<text x="818" y="453">70</text>
<text x="818" y="492">40</text>
</g>

<!-- Bottom colorbar -->
<polygon points="796,610 813,610 804.5,569" fill="#a50000"/>
<rect x="796" y="610" width="17" height="39.5" fill="#e11400"/>
<rect x="796" y="649.5" width="17" height="39.5" fill="#ff6000"/>
<rect x="796" y="689" width="17" height="39.5" fill="#ffa000"/>
<rect x="796" y="728.5" width="17" height="39.5" fill="#ffc03c"/>
<rect x="796" y="768" width="17" height="40" fill="#fffaaa"/>
<rect x="796" y="808" width="17" height="40" fill="#ffffff"/>
<rect x="796" y="848" width="17" height="39.5" fill="#e1ffff"/>
<rect x="796" y="887.5" width="17" height="39.5" fill="#96d2fa"/>
<rect x="796" y="927" width="17" height="40" fill="#2882f0"/>
<polygon points="796,967 813,967 804.5,1007" fill="#1464d2"/>
<path d="M796,649.5H813M796,689H813M796,728.5H813M796,768H813M796,808H813M796,848H813M796,887.5H813M796,927H813M796,967H813" stroke="#000" stroke-width="1.2"/>
<g font-size="14">
<text x="818" y="615">60</text>
<text x="818" y="654.5">50</text>
<text x="818" y="694">40</text>
<text x="818" y="733.5">30</text>
<text x="818" y="773">20</text>
<text x="818" y="813">10</text>
<text x="818" y="853" textLength="29" lengthAdjust="spacing">−10</text>
<text x="818" y="892.5" textLength="29" lengthAdjust="spacing">−20</text>
<text x="818" y="932" textLength="29" lengthAdjust="spacing">−30</text>
<text x="818" y="972" textLength="29" lengthAdjust="spacing">−40</text>
</g>
</svg>
</body></html>
